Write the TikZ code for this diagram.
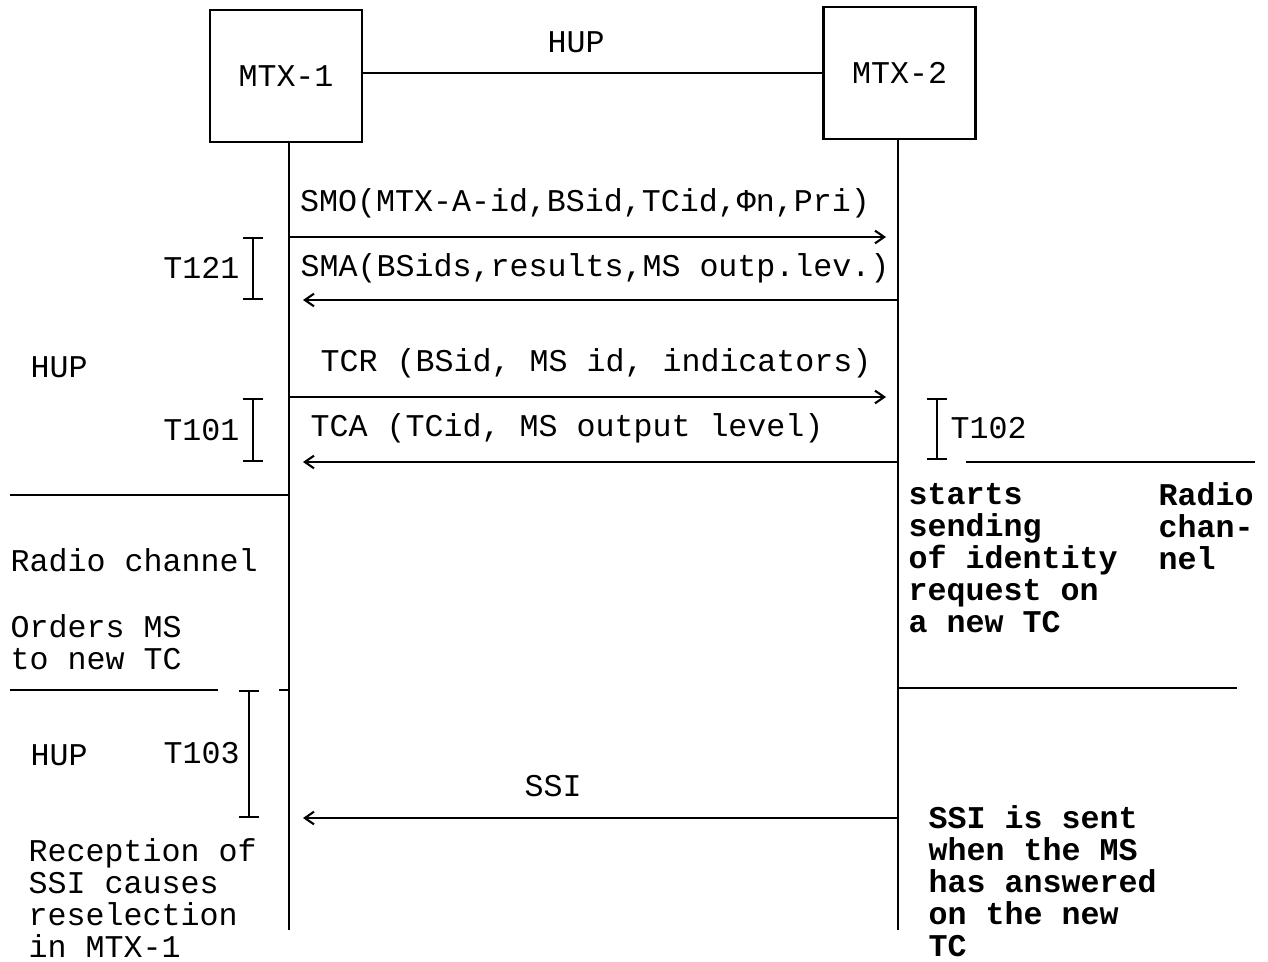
\documentclass[tikz,border=0pt]{standalone}
\usepackage{fontspec}
\setmonofont{Liberation Mono}
\usetikzlibrary{arrows.meta}
\begin{document}
\begin{tikzpicture}[x=0.01cm,y=-0.01cm,
  every node/.style={font=\ttfamily\fontsize{9}{9.1}\selectfont, inner sep=0pt},
  box/.style={draw, line width=0.7pt, minimum width=1.52cm, minimum height=1.32cm},
  life/.style={line width=0.6pt},
  msg/.style={line width=0.6pt, -{Straight Barb[length=2.6pt,width=3.6pt]}},
  timer/.style={line width=0.6pt, {Bar[width=5.7pt]}-{Bar[width=5.7pt]}},
  sep/.style={line width=0.7pt},
  lbl/.style={anchor=west, align=left},
  bld/.style={font=\ttfamily\bfseries\fontsize{9}{9.1}\selectfont}
]
\useasboundingbox (0,0) rectangle (1268,961);
% boxes
\node[box] (m1) at (286,76) {MTX-1};
\node[box] (m2) at (899.5,73) {MTX-2};
\draw[sep] (m1.east |- m2.west) -- (m2.west);
\node (hupt) at (576,42) {HUP};
% lifelines
\coordinate (l1t) at (289,142);
\coordinate (l1b) at (289,930);
\coordinate (l2t) at (898,138);
\coordinate (l2b) at (898,930);
\draw[life] (l1t) -- (l1b);
\draw[life] (l2t) -- (l2b);
% messages
\coordinate (smoS) at (289,237); \coordinate (smoE) at (886,237);
\coordinate (smaS) at (898,300); \coordinate (smaE) at (303,300);
\coordinate (tcrS) at (289,397); \coordinate (tcrE) at (886,397);
\coordinate (tcaS) at (898,462); \coordinate (tcaE) at (303,462);
\coordinate (ssiS) at (898,818); \coordinate (ssiE) at (303,818);
\draw[msg] (smoS) -- (smoE);
\draw[msg] (smaS) -- (smaE);
\draw[msg] (tcrS) -- (tcrE);
\draw[msg] (tcaS) -- (tcaE);
\draw[msg] (ssiS) -- (ssiE);
\node (smo) at (585,203) {SMO(MTX-A-id,BSid,TCid,Φn,Pri)};
\node[lbl] (sma) at (300,268) {SMA(BSids,results,MS outp.lev.)};
\node[lbl] (tcr) at (320,363) {TCR (BSid, MS id, indicators)};
\node[lbl] (tca) at (310,428) {TCA (TCid, MS output level)};
\node (ssi) at (553,786) {SSI};
% timers
\coordinate (t121a) at (253,237); \coordinate (t121b) at (253,300);
\coordinate (t101a) at (253,398); \coordinate (t101b) at (253,462);
\coordinate (t102a) at (937,398); \coordinate (t102b) at (937,460);
\coordinate (t103a) at (249,690); \coordinate (t103b) at (249,818);
\draw[timer] (t121a) -- (t121b);
\draw[timer] (t101a) -- (t101b);
\draw[timer] (t102a) -- (t102b);
\draw[timer] (t103a) -- (t103b);
\node[anchor=east] (t121) at (240,268) {T121};
\node[anchor=east] (t101) at (240,430) {T101};
\node[anchor=west] (t102) at (950,428) {T102};
\node[anchor=west] (t103) at (163,753) {T103};
% separators
\coordinate (s1a) at (10,495); \coordinate (s1b) at (289,495);
\coordinate (s2a) at (966,462); \coordinate (s2b) at (1255,462);
\coordinate (s3a) at (10,690); \coordinate (s3b) at (218,690);
\coordinate (s3c) at (279,690); \coordinate (s3d) at (289,690);
\coordinate (s4a) at (898,688); \coordinate (s4b) at (1237,688);
\draw[sep] (s1a) -- (s1b);
\draw[sep] (s2a) -- (s2b);
\draw[sep] (s3a) -- (s3b);
\draw[sep] (s3c) -- (s3d);
\draw[sep] (s4a) -- (s4b);
% side texts
\node[lbl] (hup1) at (30,367) {HUP};
\node[lbl] (radio) at (10,560) {Radio channel};
\node[lbl] (orders) at (10,642) {Orders MS\\to new TC};
\node[lbl] (hup2) at (30,755) {HUP};
\node[lbl] (recep) at (28,898) {Reception of\\SSI causes\\reselection\\in MTX-1};
\node[lbl,bld] (starts) at (908,558) {starts\\sending\\of identity\\request on\\a new TC};
\node[lbl,bld] (radio2) at (1158,526) {Radio\\chan-\\nel};
\node[lbl,bld] (ssisent) at (928,881) {SSI is sent\\when the MS\\has answered\\on the new\\TC};
\end{tikzpicture}
\end{document}
